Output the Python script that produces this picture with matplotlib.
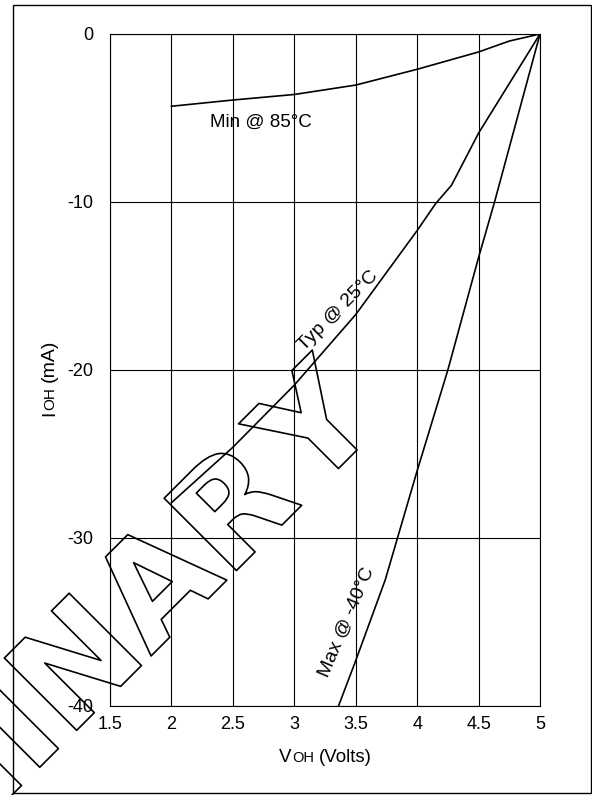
import matplotlib
matplotlib.use('Agg')
import matplotlib.pyplot as plt
from matplotlib import patheffects
from matplotlib.patches import Rectangle
from matplotlib.transforms import IdentityTransform

# ---- data ----
min_v = [2.0, 2.5, 3.0, 3.5, 4.0, 4.5, 4.75, 5.0]
min_i = [-4.3, -3.93, -3.6, -3.04, -2.1, -1.07, -0.42, 0.0]
typ_v = [2.0, 2.5, 3.0, 3.5, 3.75, 4.0, 4.15, 4.28, 4.5, 5.0]
typ_i = [-27.9, -24.6, -20.9, -16.7, -14.2, -11.7, -10.1, -9.0, -5.9, 0.0]
max_v = [3.36, 3.5, 3.74, 3.84, 4.0, 4.25, 4.5, 4.63, 5.0]
max_i = [-40.0, -37.3, -32.5, -30.0, -26.0, -20.0, -13.3, -10.0, 0.0]
x_ticks = [1.5, 2, 2.5, 3, 3.5, 4, 4.5, 5]
x_tick_labels = ['1.5', '2', '2.5', '3', '3.5', '4', '4.5', '5']
y_ticks = [0, -10, -20, -30, -40]
y_tick_labels = ['0', '-10', '-20', '-30', '-40']

plt.rcParams['font.family'] = ['Liberation Sans', 'DejaVu Sans']

W, H = 592, 795
fig = plt.figure(figsize=(W / 100, H / 100), dpi=100)
ax = fig.add_axes([110 / W, 1 - 706 / H, 430 / W, 672 / H])
ax.set_xlim(1.5, 5)
ax.set_ylim(-40, 0)
ax.set_xticks(x_ticks, x_tick_labels)
ax.set_yticks(y_ticks, y_tick_labels)
ax.tick_params(length=0, labelsize=13)
ax.tick_params(axis='x', pad=7.5)
ax.tick_params(axis='y', pad=12)
ax.grid(True, color='black', lw=0.8)
ax.set_axisbelow(True)
for s in ax.spines.values():
    s.set_linewidth(0.8)

ax.plot(min_v, min_i, color='black', lw=1.2)
ax.plot(typ_v, typ_i, color='black', lw=1.2)
ax.plot(max_v, max_i, color='black', lw=1.2)

ax.text(2.31, -5.54, 'Min @ 85°C', fontsize=13.5, ha='left', va='baseline')
ax.text(3.36, -16.5, 'Typ @ 25°C', fontsize=14, ha='center', va='center',
        rotation=45, rotation_mode='anchor')
ax.text(3.43, -35.0, 'Max @ -40°C', fontsize=14, ha='center', va='center',
        rotation=67, rotation_mode='anchor')

# ---- composite axis labels (small-caps style subscripts) ----
renderer = fig.canvas.get_renderer()


def text_width(s, size):
    t = fig.text(0, 0, s, fontsize=size)
    w = t.get_window_extent(renderer).width
    t.remove()
    return w


def composite(parts, x0, y0, rotation=0):
    pos = 0.0
    for s, size, gap in parts:
        pos += gap
        if rotation == 0:
            fig.text(x0 + pos, y0, s, fontsize=size, ha='left', va='baseline',
                     transform=IdentityTransform())
        else:
            fig.text(x0, y0 + pos, s, fontsize=size, ha='left', va='baseline',
                     rotation=90, rotation_mode='anchor',
                     transform=IdentityTransform())
        pos += text_width(s, size)


composite([('V', 13.5, 0), ('OH', 10.5, 0.5), ('(Volts)', 13.5, 5.0)],
          279, H - 762)
composite([('I', 14, 0), ('OH', 11, 0.5), ('(mA)', 14, 5.2)],
          54, H - 416, rotation=90)

# ---- outer frame ----
fig.add_artist(Rectangle((12.7 / W, 1 - 793 / H), (590.5 - 12.7) / W,
                         (793 - 5) / H, transform=fig.transFigure,
                         fill=False, lw=1.0, ec='black'))

# ---- watermark (outlined) ----
wm_style = dict(fontsize=101, fontweight='bold', family='DejaVu Sans',
                rotation=45, rotation_mode='anchor', ha='right',
                va='baseline', color='none', zorder=10,
                path_effects=[patheffects.Stroke(linewidth=1.2,
                                                 foreground='black')])
fig.text(383.7 / W, 1 - 423.3 / H, 'Y', **wm_style)
fig.text(303.8 / W, 1 - 503.2 / H, 'PRELIMINAR', **wm_style)

fig.savefig('out.png', dpi=100)
